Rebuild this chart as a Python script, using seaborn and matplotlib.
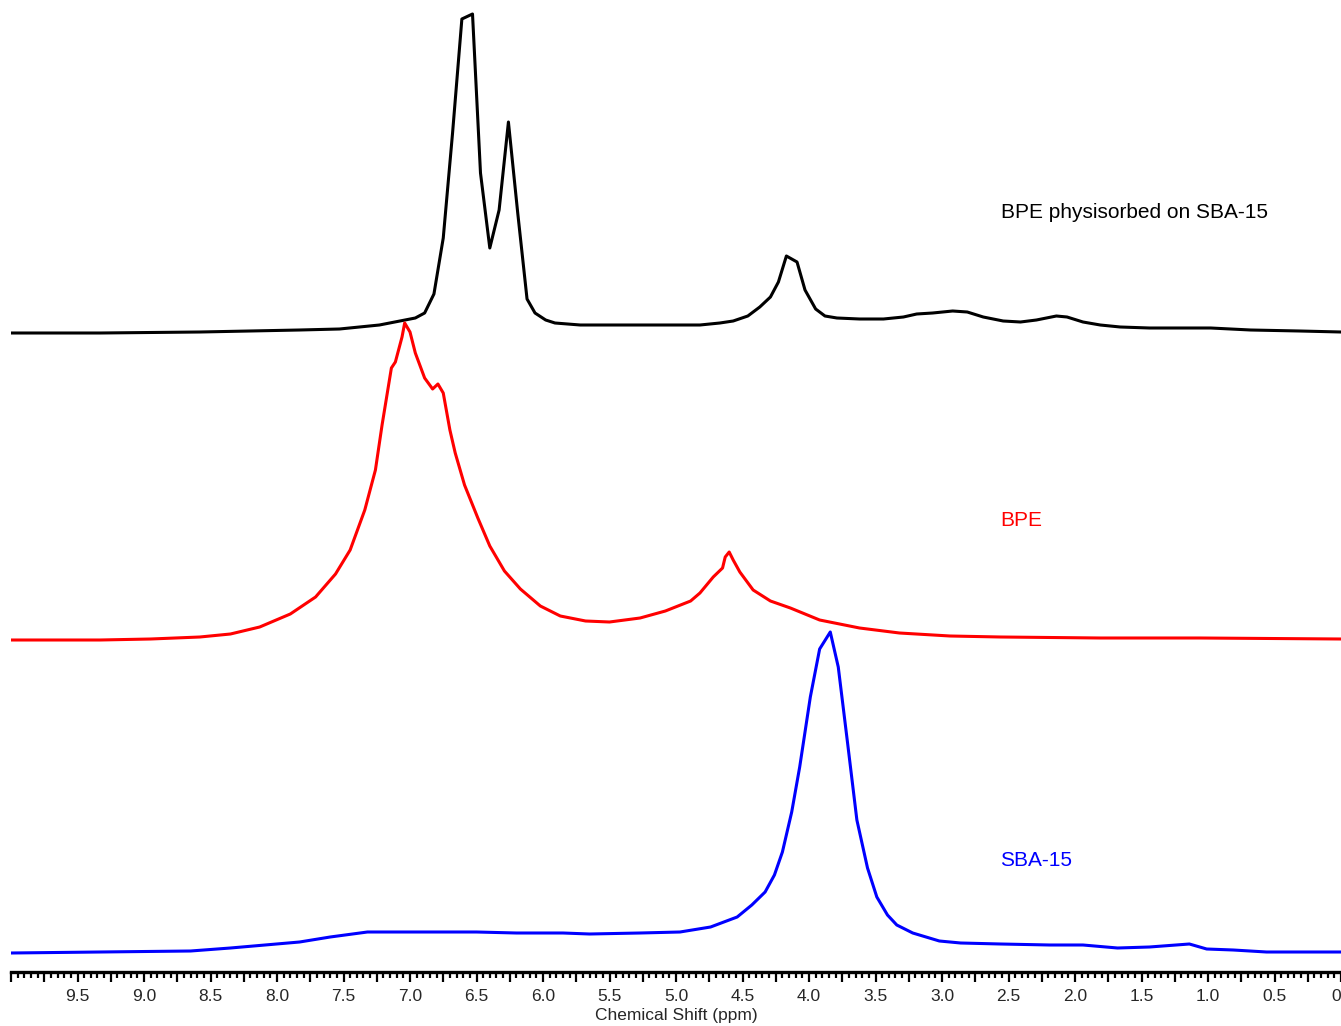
import numpy as np
import pandas as pd
import matplotlib
matplotlib.use("Agg")
import matplotlib.pyplot as plt
import seaborn as sns
from matplotlib.ticker import MultipleLocator, FuncFormatter

# ---------------- data ----------------
bpe_sba_ppm = [10.0, 9.33, 8.58, 7.83, 7.53, 7.23, 6.96, 6.89, 6.82, 6.75, 6.68, 6.61, 6.53,
               6.47, 6.40, 6.33, 6.26, 6.19, 6.12, 6.06, 5.98, 5.91, 5.72, 5.42, 4.82, 4.67,
               4.57, 4.46, 4.37, 4.29, 4.23, 4.17, 4.09, 4.03, 3.95, 3.88, 3.79, 3.62, 3.44,
               3.29, 3.19, 3.07, 2.92, 2.81, 2.69, 2.54, 2.41, 2.29, 2.14, 2.06, 1.94, 1.81,
               1.66, 1.44, 0.98, 0.68, 0.31, 0.0]
bpe_sba_int = [0, 0, 1, 3, 4, 8, 15, 20, 39, 95, 200, 314, 319,
               160, 85, 123, 211, 120, 34, 20, 13, 10, 8, 8, 8, 10,
               12, 17, 26, 36, 51, 77, 71, 43, 24, 17, 15, 14, 14,
               16, 19, 20, 22, 21, 16, 12, 11, 13, 17, 16, 11, 8,
               6, 5, 5, 3, 2, 1]

bpe_ppm = [10.0, 9.33, 8.95, 8.58, 8.35, 8.13, 7.90, 7.71, 7.56, 7.45, 7.34, 7.26, 7.21,
           7.14, 7.11, 7.06, 7.04, 7.00, 6.96, 6.89, 6.83, 6.79, 6.75, 6.70, 6.66, 6.59,
           6.49, 6.40, 6.29, 6.17, 6.02, 5.87, 5.68, 5.50, 5.27, 5.08, 4.89, 4.82, 4.72,
           4.65, 4.63, 4.60, 4.57, 4.52, 4.42, 4.29, 4.14, 3.92, 3.62, 3.32, 2.94, 2.56,
           1.81, 1.06, 0.0]
bpe_int = [0, 0, 1, 3, 6, 13, 26, 43, 66, 90, 130, 170, 215,
           272, 278, 303, 317, 308, 287, 262, 251, 256, 247, 210, 187, 155,
           122, 94, 69, 51, 34, 24, 19, 18, 22, 29, 39, 47, 63,
           72, 83, 88, 80, 68, 50, 39, 32, 20, 12, 7, 4, 3,
           2, 2, 1]

sba_ppm = [10.0, 9.33, 8.65, 8.35, 7.83, 7.60, 7.32, 6.90, 6.50, 6.20, 5.85, 5.65, 5.27,
           4.97, 4.74, 4.54, 4.43, 4.33, 4.26, 4.20, 4.13, 4.07, 3.99, 3.92, 3.84, 3.78,
           3.71, 3.64, 3.56, 3.49, 3.41, 3.34, 3.22, 3.02, 2.86, 2.56, 2.19, 1.94, 1.68,
           1.44, 1.14, 1.01, 0.81, 0.56, 0.0]
sba_int = [0, 1, 2, 5, 11, 16, 21, 21, 21, 20, 20, 19, 20,
           21, 26, 36, 48, 61, 78, 101, 141, 186, 256, 304, 321, 286,
           210, 133, 85, 56, 38, 28, 20, 12, 10, 9, 8, 8, 5,
           6, 9, 4, 3, 1, 1]

series_names = ["BPE physisorbed on SBA-15", "BPE", "SBA-15"]

# ---------------- layout / style ----------------
offsets = [639, 332, 19]
colors = ["#000000", "#ff0000", "#0000ff"]
label_pos = [(2.56, 760), (2.56, 452), (2.56, 112)]

sns.set_style("white")
plt.rcParams["font.family"] = ["Liberation Sans", "DejaVu Sans"]

fig = plt.figure(figsize=(13.41, 10.26), dpi=100)
ax = fig.add_axes([11 / 1341, 54 / 1026, 1330 / 1341, 972 / 1026])

spectra = [(bpe_sba_ppm, bpe_sba_int), (bpe_ppm, bpe_int), (sba_ppm, sba_int)]
for (ppm, inten), off, col, name, (lx, ly) in zip(spectra, offsets, colors, series_names, label_pos):
    df = pd.DataFrame({"ppm": ppm, "y": np.asarray(inten, dtype=float) + off})
    sns.lineplot(data=df, x="ppm", y="y", sort=False, estimator=None,
                 color=col, linewidth=2.2, ax=ax, legend=False)
    ax.text(lx, ly, name, color=col, fontsize=15, ha="left", va="center")

ax.set_xlim(10.0, 0.0)
ax.set_ylim(0, 972)

for s in ["left", "top", "right"]:
    ax.spines[s].set_visible(False)
ax.spines["bottom"].set_linewidth(2.4)
ax.spines["bottom"].set_color("black")

ax.set_yticks([])
ax.xaxis.set_major_locator(MultipleLocator(0.25))
ax.xaxis.set_minor_locator(MultipleLocator(0.05))

def fmt(v, pos):
    if abs(v / 0.5 - round(v / 0.5)) > 1e-6:
        return ""
    if abs(v) < 1e-9:
        return "0"
    if v > 9.9:
        return ""
    return f"{v:.1f}"

ax.xaxis.set_major_formatter(FuncFormatter(fmt))
ax.tick_params(axis="x", which="major", direction="out", length=7.5, width=1.6,
               labelsize=12.5, pad=4.5, color="black", bottom=True)
ax.tick_params(axis="x", which="minor", direction="out", length=4, width=1.6,
               color="black", bottom=True)
ax.set_xlabel("Chemical Shift (ppm)", fontsize=12.5, labelpad=3)
ax.set_ylabel("")

fig.canvas.draw()
for t in ax.get_xticklabels():
    if t.get_text() == "0":
        t.set_ha("right")

fig.savefig("out.png", dpi=100)
